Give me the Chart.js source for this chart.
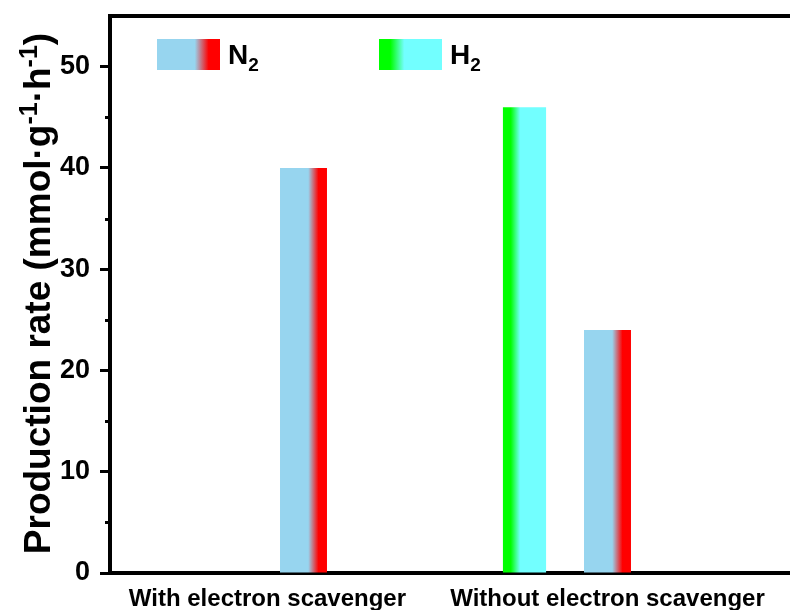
<!DOCTYPE html>
<html>
<head>
<meta charset="utf-8">
<script src="https://cdn.jsdelivr.net/npm/chart.js@4.4.1/dist/chart.umd.min.js"></script>
<style>
  html, body { margin: 0; padding: 0; background: #ffffff; }
  #wrap { width: 790px; height: 610px; }
</style>
</head>
<body>
<div id="wrap"><canvas id="chart" width="790" height="610"></canvas></div>
<script>
// Production rates (mmol·g-1·h-1) per condition
const categories = ['With electron scavenger', 'Without electron scavenger'];
const h2Rates = [0, 46];
const n2Rates = [40, 24];
const yTicks = [0, 10, 20, 30, 40, 50];
const yMinorTicks = [5, 15, 25, 35, 45];

const FONT = "'Liberation Sans', Arial, Helvetica, sans-serif";

// Horizontal colour ramps used inside each bar and legend swatch
const n2Stops = [[0, '#97D5EF'], [0.6, '#97D5EF'], [0.82, '#FF0000'], [1, '#FF0000']];
const h2Stops = [[0, '#00FF00'], [0.18, '#00FF00'], [0.4, '#72FFFF'], [1, '#72FFFF']];

function rampFill(ctx2d, x0, x1, stops) {
  const g = ctx2d.createLinearGradient(x0, 0, x1, 0);
  stops.forEach(([o, c]) => g.addColorStop(o, c));
  return g;
}

function barFill(stops) {
  return (context) => {
    const el = context.element;
    if (!el || !Number.isFinite(el.x) || !Number.isFinite(el.width) || el.width <= 0) {
      return stops[0][1];
    }
    return rampFill(context.chart.ctx, el.x - el.width / 2, el.x + el.width / 2, stops);
  };
}

const yTitleParts = [
  { text: 'Production rate (mmol·g', sup: false },
  { text: '-1', sup: true },
  { text: '·h', sup: false },
  { text: '-1', sup: true },
  { text: ')', sup: false }
];

const frame = {
  id: 'frame',
  afterDraw(chart) {
    const { ctx, chartArea: a, width } = chart;
    const y = chart.scales.y;
    ctx.save();
    ctx.strokeStyle = '#000';

    // top spine and the continuation of the base line
    ctx.lineWidth = 4;
    ctx.beginPath();
    ctx.moveTo(a.left - 2, a.top);
    ctx.lineTo(width, a.top);
    ctx.moveTo(a.right, a.bottom);
    ctx.lineTo(width, a.bottom);
    ctx.stroke();

    // minor ticks on the value axis
    ctx.lineWidth = 3;
    ctx.beginPath();
    yMinorTicks.forEach(v => {
      const py = Math.round(y.getPixelForValue(v)) + 0.5;
      ctx.moveTo(a.left - 5, py);
      ctx.lineTo(a.left, py);
    });
    ctx.stroke();

    // rotated axis title with superscripts
    ctx.fillStyle = '#000';
    ctx.textAlign = 'left';
    ctx.textBaseline = 'alphabetic';
    const mainFont = `bold 37px ${FONT}`;
    const supFont = `bold 25px ${FONT}`;
    const widths = yTitleParts.map(p => { ctx.font = p.sup ? supFont : mainFont; return ctx.measureText(p.text).width; });
    const total = widths.reduce((s, w) => s + w, 0);
    ctx.save();
    ctx.translate(50, (a.top + a.bottom) / 2 - 1);
    ctx.rotate(-Math.PI / 2);
    let tx = -total / 2;
    yTitleParts.forEach((p, i) => {
      ctx.font = p.sup ? supFont : mainFont;
      ctx.fillText(p.text, tx, p.sup ? -13 : 0);
      tx += widths[i];
    });
    ctx.restore();

    // legend inside the plot, N2 first
    [1, 0].forEach((di, i) => {
      const ds = chart.data.datasets[di];
      const bx = a.left + 47 + i * 222, by = a.top + 23, bw = 63, bh = 31;
      ctx.fillStyle = rampFill(ctx, bx, bx + bw, ds.rampStops);
      ctx.fillRect(bx, by, bw, bh);
      const m = ds.label.match(/^(\D+)(\d*)$/);
      ctx.fillStyle = '#000';
      ctx.font = `bold 28px ${FONT}`;
      const lx = bx + bw + 8;
      ctx.fillText(m[1], lx, by + 24.5);
      const w = ctx.measureText(m[1]).width;
      ctx.font = `bold 19px ${FONT}`;
      ctx.fillText(m[2], lx + w, by + 31.5);
    });
    ctx.restore();
  }
};

const chart = new Chart(document.getElementById('chart'), {
  type: 'bar',
  data: {
    labels: categories,
    datasets: [
      {
        label: 'H2', data: h2Rates, rampStops: h2Stops,
        backgroundColor: barFill(h2Stops), borderWidth: 0,
        categoryPercentage: 0.546, barPercentage: 0.52
      },
      {
        label: 'N2', data: n2Rates, rampStops: n2Stops,
        backgroundColor: barFill(n2Stops), borderWidth: 0,
        categoryPercentage: 0.546, barPercentage: 0.566
      }
    ]
  },
  options: {
    responsive: false,
    animation: false,
    events: [],
    layout: { padding: { top: 16, right: 72, bottom: 0, left: 0 } },
    plugins: {
      legend: { display: false },
      tooltip: { enabled: false },
      title: { display: false }
    },
    scales: {
      // category axis carrying the bars; its line is the base of the plot
      x: {
        type: 'category',
        position: 'bottom',
        weight: 0,
        z: 1,
        grid: { display: false, drawTicks: false },
        border: { display: true, color: '#000', width: 4 },
        ticks: { display: false },
        afterFit(scale) { scale.height = 0; scale.paddingLeft = 0; scale.paddingRight = 0; }
      },
      // numeric axis holding the condition names under the base line
      xNames: {
        type: 'linear',
        position: 'bottom',
        weight: 1,
        offset: false,
        min: -0.463,
        max: 1.325,
        afterBuildTicks(scale) { scale.ticks = categories.map((_, i) => ({ value: i })); },
        grid: { display: false, drawTicks: false, offset: false },
        border: { display: false },
        ticks: {
          color: '#000',
          font: { family: FONT, size: 24, weight: 'bold' },
          padding: 12,
          maxRotation: 0, minRotation: 0, autoSkip: false,
          callback: (value) => categories[value] ?? ''
        },
        afterFit(scale) { scale.height = 37; scale.paddingLeft = 0; scale.paddingRight = 0; }
      },
      y: {
        min: 0, max: 55,
        z: 1,
        afterBuildTicks(scale) { scale.ticks = yTicks.map(v => ({ value: v })); },
        grid: { drawOnChartArea: false, drawTicks: true, tickLength: 10, tickWidth: 3, tickColor: '#000' },
        border: { display: true, color: '#000', width: 4 },
        ticks: {
          color: '#000',
          font: { family: FONT, size: 27, weight: 'bold' },
          padding: 10
        },
        afterFit(scale) { scale.width = 110; scale.paddingTop = 0; scale.paddingBottom = 0; }
      }
    }
  },
  plugins: [frame]
});

// second pass so each bar's ramp follows its laid-out geometry
chart.update();
</script>
</body>
</html>
